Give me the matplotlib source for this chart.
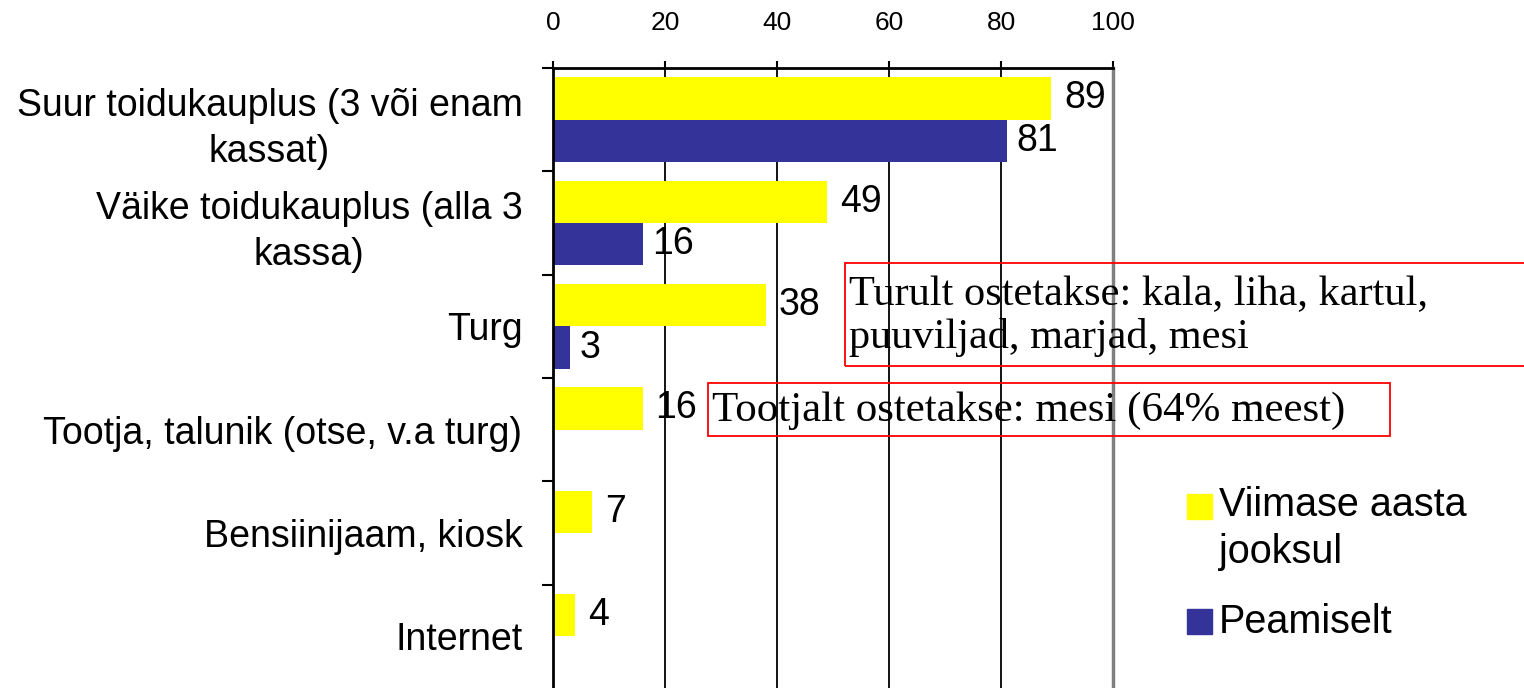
import matplotlib.pyplot as plt
from matplotlib.patches import Rectangle
import numpy as np

plt.rcParams['font.family'] = ['Liberation Sans', 'DejaVu Sans']

# data
categories = [
    "Suur toidukauplus (3 või enam\nkassat)",
    "Väike toidukauplus (alla 3\nkassa)",
    "Turg",
    "Tootja, talunik (otse, v.a turg)",
    "Bensiinijaam, kiosk",
    "Internet",
]
last_year = [89, 49, 38, 16, 7, 4]
mainly = [81, 16, 3]
series_names = ["Viimase aasta\njooksul", "Peamiselt"]
notes = [
    "Turult ostetakse: kala, liha, kartul,\npuuviljad, marjad, mesi",
    "Tootjalt ostetakse: mesi (64% meest)",
]
x_ticks = [0, 20, 40, 60, 80, 100]

YELLOW = "#FFFF00"
BLUE = "#333399"
W, H = 1524, 688


def fx(px):
    return px / W


def fy(py):
    return 1 - py / H


fig = plt.figure(figsize=(W / 100, H / 100), dpi=100)
ax = fig.add_axes([fx(553), 0, fx(1113) - fx(553), fy(68)])

pos = np.arange(len(categories))
bh = 0.41
b1 = ax.barh(pos - bh / 2, last_year, height=bh, color=YELLOW, zorder=2)
b2 = ax.barh(pos[:len(mainly)] + bh / 2, mainly, height=bh, color=BLUE, zorder=2)
ax.bar_label(b1, padding=9, fontsize=27)
ax.bar_label(b2, padding=7, fontsize=27)

ax.set_xlim(0, 100)
ax.set_ylim(len(categories) - 0.5, -0.5)

ax.xaxis.tick_top()
ax.set_xticks(x_ticks)
ax.tick_params(axis='x', direction='out', length=5, width=1.5, pad=19, labelsize=19)

ax.set_yticks(pos)
ax.set_yticklabels(categories, fontsize=27)
for t in ax.get_yticklabels():
    t.set_multialignment('center')
    t.set_linespacing(1.36)
ax.set_yticks(np.arange(len(categories)) - 0.5, minor=True)
ax.tick_params(axis='y', which='major', length=0, pad=22)
ax.tick_params(axis='y', which='minor', length=8, width=1.5, direction='out')

ax.set_axisbelow(True)
ax.grid(axis='x', color='black', linewidth=1.3)
ax.grid(axis='y', visible=False)

ax.spines['bottom'].set_visible(False)
ax.spines['left'].set_linewidth(2)
ax.spines['top'].set_linewidth(2)
ax.spines['right'].set_color('#808080')
ax.spines['right'].set_linewidth(2.5)

# note boxes
fig.add_artist(Rectangle((fx(845), fy(366)), fx(1540) - fx(845), fy(263) - fy(366),
                         transform=fig.transFigure, fill=False, edgecolor='red', linewidth=1.3))
fig.text(fx(849), fy(316), notes[0], family='Liberation Serif', fontsize=30.5,
         ha='left', va='center', linespacing=1.12)
fig.add_artist(Rectangle((fx(708), fy(436)), fx(1390) - fx(708), fy(383) - fy(436),
                         transform=fig.transFigure, fill=False, edgecolor='red', linewidth=1.3))
fig.text(fx(712), fy(411), notes[1], family='Liberation Serif', fontsize=31,
         ha='left', va='center')

# legend
for c, top, name, va, ty in [(YELLOW, 494, series_names[0], 'top', 486),
                             (BLUE, 609, series_names[1], 'center', 622)]:
    fig.add_artist(Rectangle((fx(1187), fy(top + 25)), fx(25), 25 / H,
                             transform=fig.transFigure, color=c))
    fig.text(fx(1219), fy(ty), name, fontsize=28.5, ha='left', va=va, linespacing=1.3)

fig.savefig("out.png", dpi=100)
